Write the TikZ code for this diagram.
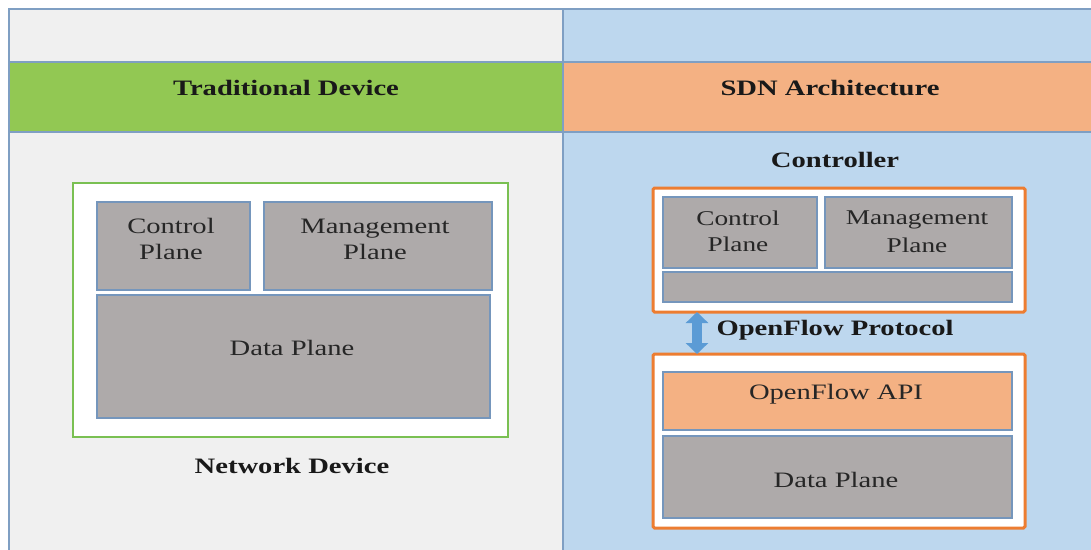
\documentclass[tikz,border=0pt]{standalone}
\usepackage{fontspec}
\setmainfont{Liberation Serif}[FakeStretch=1.3]
\usetikzlibrary{arrows.meta}
\definecolor{leftbg}{HTML}{F0F0F0}
\definecolor{rightbg}{HTML}{BDD7EE}
\definecolor{hgreen}{HTML}{92C853}
\definecolor{horange}{HTML}{F4B183}
\definecolor{tline}{HTML}{7F9FC3}
\definecolor{pgray}{HTML}{AEAAAA}
\definecolor{pline}{HTML}{7596BC}
\definecolor{devgreen}{HTML}{7AC052}
\definecolor{ctlorange}{HTML}{ED7D31}
\definecolor{arrblue}{HTML}{5B9BD5}
\begin{document}
\begin{tikzpicture}[x=1pt,y=-1pt,
  cell/.style={draw=tline,line width=1.2pt},
  txt/.style={font=\fontsize{22}{26}\selectfont,align=center,text=black!85},
  head/.style={font=\fontsize{22}{26}\selectfont\bfseries,text=black!90},
  plane/.style={draw=pline,fill=pgray,line width=1.3pt,inner sep=0pt,outer sep=0pt},
  apibox/.style={draw=pline,fill=horange,line width=1.3pt,inner sep=0pt,outer sep=0pt},
  devbox/.style={draw=devgreen,fill=white,line width=2pt,inner sep=0pt,outer sep=0pt},
  ctlbox/.style={draw=ctlorange,fill=white,line width=3pt,rounded corners=1.5pt,inner sep=0pt,outer sep=0pt},
  flowarrow/.style={draw=arrblue,line width=10pt,{Triangle[width=22pt,length=11pt]}-{Triangle[width=22pt,length=11pt]}}
]
\useasboundingbox (0,0) rectangle (1091,549);
\fill[white] (0,0) rectangle (1091,549);
% table cells
\draw[cell,fill=leftbg] (9,9) rectangle (563,62);
\draw[cell,fill=rightbg] (563,9) rectangle (1096,62);
\draw[cell,fill=hgreen] (9,62) rectangle (563,132);
\draw[cell,fill=horange] (563,62) rectangle (1096,132);
\draw[cell,fill=leftbg] (9,132) rectangle (563,556);
\draw[cell,fill=rightbg] (563,132) rectangle (1096,556);
\node[head] (h1) at (286,88) {Traditional Device};
\node[head] (h2) at (830,88) {SDN Architecture};
% traditional device
\node[devbox,minimum width=435,minimum height=254] (dev) at (290.5,310) {};
\node[plane,minimum width=153,minimum height=88] (cp1) at (173.5,246) {};
\node[plane,minimum width=228,minimum height=88] (mp1) at (378,246) {};
\node[plane,minimum width=393,minimum height=123] (dp1) at (293.5,356.5) {};
\node[txt] (cp1t) at (171,239) {Control\\Plane};
\node[txt] (mp1t) at (375,239) {Management\\Plane};
\node[txt] (dp1t) at (292,348) {Data Plane};
\node[head] (nd) at (292,466) {Network Device};
% SDN
\node[head] (ctl) at (835,160) {Controller};
\node[ctlbox,minimum width=372,minimum height=124] (cbox) at (839,250) {};
\node[plane,minimum width=154,minimum height=71] (cp2) at (740,232.5) {};
\node[plane,minimum width=187,minimum height=71] (mp2) at (918.5,232.5) {};
\node[plane,minimum width=349,minimum height=30] (bar) at (837.5,287) {};
\node[txt,font=\fontsize{21}{26}\selectfont] (cp2t) at (738,231) {Control\\Plane};
\node[txt,font=\fontsize{21}{28}\selectfont] (mp2t) at (917,232) {Management\\Plane};
\node[ctlbox,minimum width=372,minimum height=174] (sbox) at (839,441) {};
\node[apibox,minimum width=349,minimum height=58] (api) at (837.5,401) {};
\node[plane,minimum width=349,minimum height=82] (dp2) at (837.5,477) {};
\node[txt] (apit) at (836,394) {OpenFlow API};
\node[txt] (dp2t) at (836,480) {Data Plane};
\coordinate (ax) at (697,0);
\draw[flowarrow] (ax |- cbox.south) -- (ax |- sbox.north);
\node[head,anchor=west] (ofp) at (713,330) {OpenFlow Protocol};
\end{tikzpicture}
\end{document}
